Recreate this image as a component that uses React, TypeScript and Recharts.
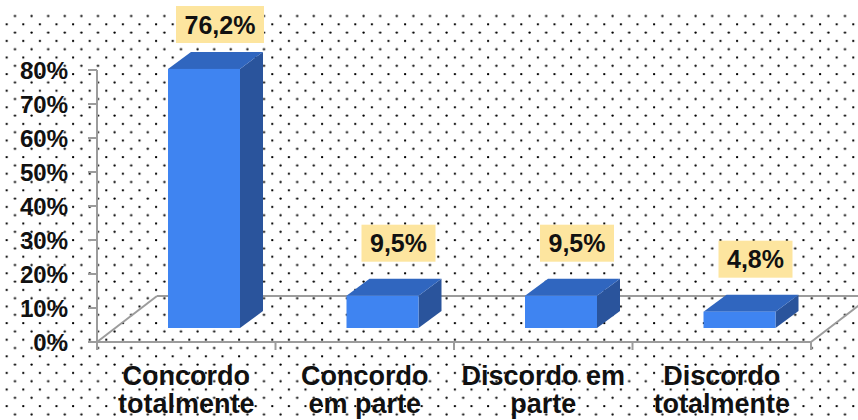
import React from 'react';
import { BarChart, Bar, XAxis, YAxis, LabelList } from 'recharts';

// data
const categories = [
    ['Concordo', 'totalmente'],
    ['Concordo', 'em parte'],
    ['Discordo em', 'parte'],
    ['Discordo', 'totalmente'],
];
const values = [76.2, 9.5, 9.5, 4.8];
const valueLabels = ['76,2%', '9,5%', '9,5%', '4,8%'];
const yTicks = [0, 10, 20, 30, 40, 50, 60, 70, 80];

const data = categories.map((lines, i) => ({
    name: lines.join('|'),
    value: values[i],
    label: valueLabels[i],
}));

// layout
const W = 858;
const H = 420;
const PLOT_LEFT = 97;
const PLOT_RIGHT = 811;
const PLOT_TOP = 70;
const PLOT_BOTTOM = 342;
const FLOOR_DX = 60;
const FLOOR_DY = 46;

// bar sits part way into the floor depth
const SHIFT_X = 18;
const SHIFT_Y = 14;
const DEPTH_X = 23;
const DEPTH_Y = 17;

const FRONT = '#3f84f1';
const TOP = '#3066bf';
const SIDE = '#2a549c';
const BOX = '#fde59f';
const AXIS = '#9c9c9c';
const FONT = '"Liberation Sans", Arial, sans-serif';

const Bar3D = (props: any) => {
    const { x, y, width, height } = props;
    const fx = x + SHIFT_X;
    const fy = y - SHIFT_Y;
    const w = width;
    const h = height;
    return (
        <g>
            <polygon
                points={`${fx + w},${fy} ${fx + w + DEPTH_X},${fy - DEPTH_Y} ${fx + w + DEPTH_X},${fy + h - DEPTH_Y} ${fx + w},${fy + h}`}
                fill={SIDE}
            />
            <polygon
                points={`${fx},${fy} ${fx + DEPTH_X},${fy - DEPTH_Y} ${fx + w + DEPTH_X},${fy - DEPTH_Y} ${fx + w},${fy}`}
                fill={TOP}
            />
            <rect x={fx} y={fy} width={w} height={h} fill={FRONT} />
        </g>
    );
};

const ValueBox = (props: any) => {
    const { x, y, width, value } = props;
    const text = String(value);
    const bw = text.length * 14 + 18;
    const bh = 37;
    const cx = x + SHIFT_X + width / 2 + 16;
    const backTop = y - SHIFT_Y - DEPTH_Y;
    const top = Math.max(6, backTop - 17 - bh);
    return (
        <g>
            <rect x={cx - bw / 2} y={top} width={bw} height={bh} fill={BOX} />
            <text
                x={cx}
                y={top + bh / 2 + 9}
                textAnchor="middle"
                fontFamily={FONT}
                fontWeight="bold"
                fontSize={25}
                fill="#111"
            >
                {text}
            </text>
        </g>
    );
};

const CategoryTick = (props: any) => {
    const { x, y, payload, index } = props;
    const half = payload.offset || (PLOT_RIGHT - PLOT_LEFT) / categories.length / 2;
    const lines = String(payload.value).split('|');
    return (
        <g>
            <line x1={x - half} y1={y - 8} x2={x - half} y2={y} stroke={AXIS} strokeWidth={2} />
            {index === categories.length - 1 && (
                <line x1={x + half} y1={y - 8} x2={x + half} y2={y} stroke={AXIS} strokeWidth={2} />
            )}
            {lines.map((l, i) => (
                <text
                    key={i}
                    x={x}
                    y={y + 35 + i * 28}
                    textAnchor="middle"
                    fontFamily={FONT}
                    fontWeight="bold"
                    fontSize={27}
                    fill="#111"
                >
                    {l}
                </text>
            ))}
        </g>
    );
};

const Background = () => (
    <svg width={W} height={H} style={{ position: 'absolute', left: 0, top: 0 }}>
        <defs>
            <pattern id="dots" patternUnits="userSpaceOnUse" x={2.7} y={3.7} width={16.6} height={16.6}>
                <circle cx={4} cy={4} r={1.15} fill="#000" />
                <circle cx={12.3} cy={12.3} r={1.15} fill="#000" />
            </pattern>
        </defs>
        <rect x={0} y={12} width={W} height={H - 12} fill="url(#dots)" />
        {/* floor */}
        <line x1={PLOT_LEFT} y1={PLOT_BOTTOM} x2={PLOT_LEFT + FLOOR_DX} y2={PLOT_BOTTOM - FLOOR_DY} stroke={AXIS} strokeWidth={2} />
        <line x1={PLOT_LEFT + FLOOR_DX} y1={PLOT_BOTTOM - FLOOR_DY} x2={PLOT_RIGHT + FLOOR_DX} y2={PLOT_BOTTOM - FLOOR_DY} stroke={AXIS} strokeWidth={2} />
        <line x1={PLOT_RIGHT} y1={PLOT_BOTTOM} x2={PLOT_RIGHT + FLOOR_DX} y2={PLOT_BOTTOM - FLOOR_DY} stroke={AXIS} strokeWidth={2} />
    </svg>
);

export default function App() {
    return (
        <div style={{ position: 'absolute', left: 0, top: 0, width: W, height: H, background: '#fff' }}>
            <Background />
            <div style={{ position: 'absolute', left: 0, top: 0 }}>
                <BarChart
                    width={W}
                    height={H}
                    data={data}
                    margin={{ top: PLOT_TOP, right: W - PLOT_RIGHT, bottom: 0, left: 0 }}
                    barSize={72}
                >
                    <XAxis
                        dataKey="name"
                        height={H - PLOT_BOTTOM}
                        interval={0}
                        axisLine={{ stroke: AXIS, strokeWidth: 2 }}
                        tickLine={false}
                        tickSize={8}
                        tickMargin={0}
                        tick={CategoryTick}
                    />
                    <YAxis
                        width={PLOT_LEFT}
                        domain={[0, 80]}
                        ticks={yTicks}
                        interval={0}
                        tickFormatter={(v: number) => `${v}%`}
                        axisLine={{ stroke: AXIS, strokeWidth: 2 }}
                        tickLine={{ stroke: AXIS, strokeWidth: 2 }}
                        tickSize={9}
                        tickMargin={20}
                        tick={{ fill: '#111', fontSize: 24, fontWeight: 'bold', fontFamily: FONT }}
                    />
                    <Bar dataKey="value" shape={Bar3D} isAnimationActive={false}>
                        <LabelList dataKey="label" content={ValueBox} />
                    </Bar>
                </BarChart>
            </div>
        </div>
    );
}
